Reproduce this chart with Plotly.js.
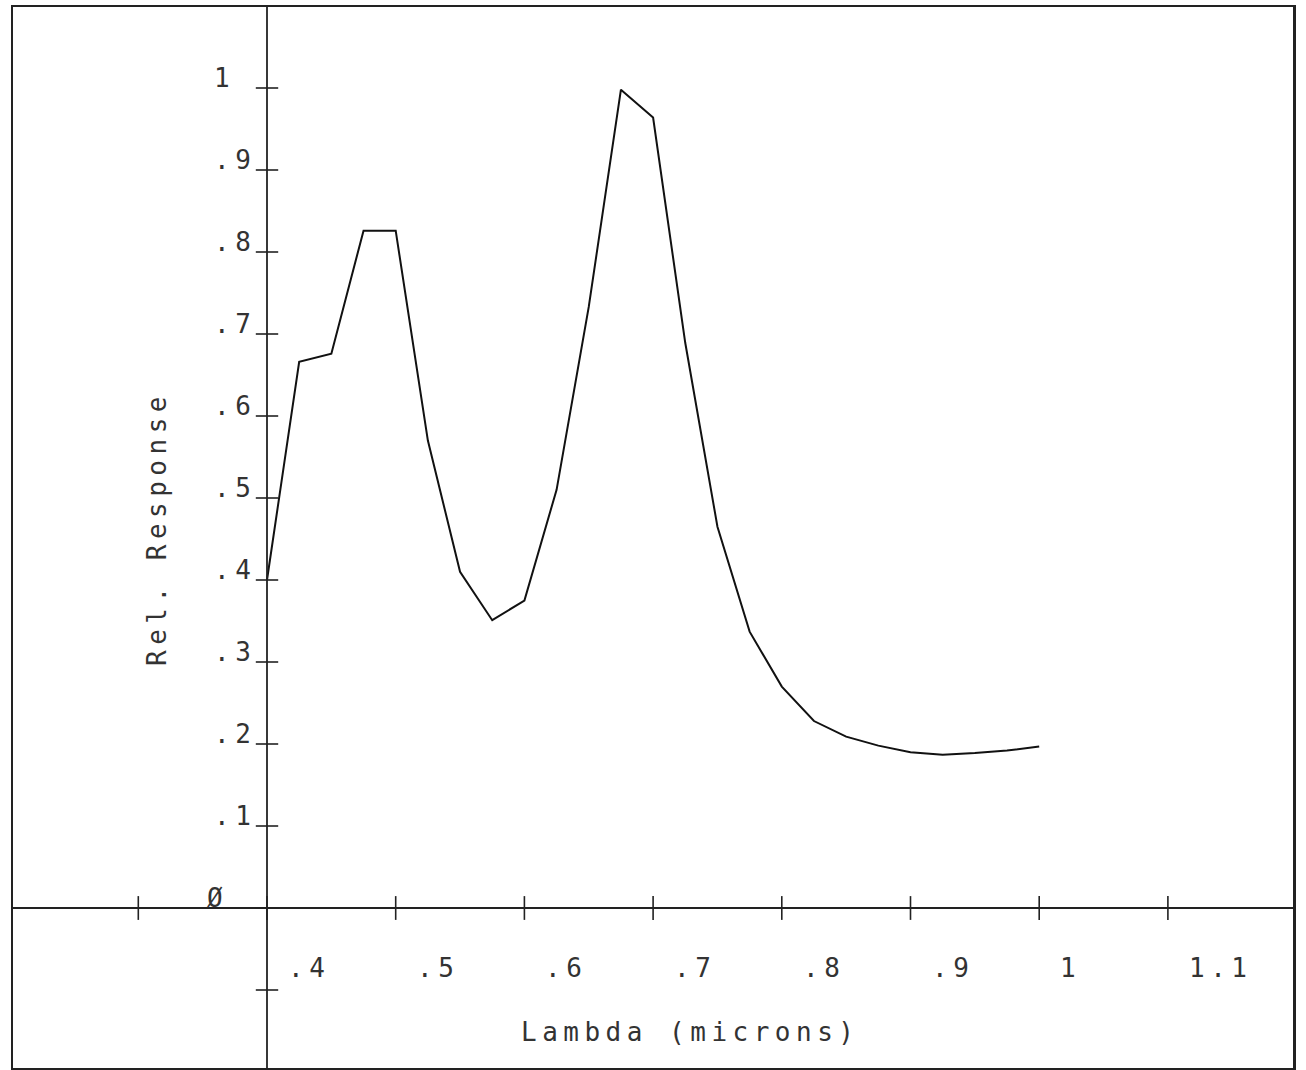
<!DOCTYPE html>
<html>
<head>
<meta charset="utf-8">
<script src="https://cdn.plot.ly/plotly-3.0.1.min.js"></script>
<style>
  html, body { margin: 0; padding: 0; background: #ffffff; }
  .annotation-text { letter-spacing: 5.5px; }
</style>
</head>
<body>
<div id="chart" style="width:1306px;height:1070px;"></div>
<script>
// ---- data ----
const lambda = [0.4, 0.425, 0.45, 0.475, 0.5, 0.525, 0.55, 0.575, 0.6, 0.625, 0.65, 0.675, 0.7,
                0.725, 0.75, 0.775, 0.8, 0.825, 0.85, 0.875, 0.9, 0.925, 0.95, 0.975, 1.0];
const response = [0.40, 0.666, 0.676, 0.826, 0.826, 0.57, 0.41, 0.351, 0.375, 0.51, 0.733, 0.998, 0.964,
                  0.689, 0.465, 0.337, 0.27, 0.228, 0.209, 0.198, 0.19, 0.187, 0.189, 0.192, 0.197];

const xTickVals = [0.3, 0.4, 0.5, 0.6, 0.7, 0.8, 0.9, 1.0, 1.1];
const xTickText = ['', '.4', '.5', '.6', '.7', '.8', '.9', '1', '1.1'];
const yTickVals = [-0.1, 0, 0.1, 0.2, 0.3, 0.4, 0.5, 0.6, 0.7, 0.8, 0.9, 1.0];
const yTickText = ['', 'Ø', '.1', '.2', '.3', '.4', '.5', '.6', '.7', '.8', '.9', '1'];

const xTitle = 'Lambda (microns)';
const yTitle = 'Rel. Response';
const yAxisAt = 0.4;   // the vertical axis crosses at lambda = 0.4
// ---------------------------------------------

const ink = '#222222';
const font = { family: 'DejaVu Sans Mono, monospace', size: 26, color: '#333333' };

const traces = [
  { // tick marks on the horizontal axis
    x: xTickVals, y: xTickVals.map(() => 0),
    type: 'scatter', mode: 'markers', hoverinfo: 'skip',
    marker: { symbol: 'line-ns', size: 17, color: ink, line: { color: ink, width: 1.6 } }
  },
  { // tick marks on the vertical axis
    x: yTickVals.map(() => yAxisAt), y: yTickVals,
    type: 'scatter', mode: 'markers', hoverinfo: 'skip',
    marker: { symbol: 'line-ew', size: 16, color: ink, line: { color: ink, width: 1.6 } }
  },
  { // response curve
    x: lambda, y: response,
    type: 'scatter', mode: 'lines',
    line: { color: '#111111', width: 2 }
  }
];

const annotations = [];
xTickVals.forEach((v, i) => {
  if (!xTickText[i]) return;
  annotations.push({
    x: v, y: 0, xref: 'x', yref: 'y', text: xTickText[i], showarrow: false,
    xanchor: 'left', yanchor: 'middle', xshift: 19, yshift: -60, font: font
  });
});
yTickVals.forEach((v, i) => {
  if (!yTickText[i]) return;
  const isZero = v === 0;
  annotations.push({
    x: yAxisAt, y: v, xref: 'x', yref: 'y', text: yTickText[i], showarrow: false,
    xanchor: 'left', yanchor: 'middle', xshift: isZero ? -62 : -55, yshift: 10, font: font
  });
});
annotations.push({
  x: 0.529, y: 0.034, xref: 'paper', yref: 'paper', text: xTitle, showarrow: false,
  xanchor: 'center', yanchor: 'middle', font: font
});
annotations.push({
  x: 0.1125, y: 0.508, xref: 'paper', yref: 'paper', text: yTitle, showarrow: false,
  textangle: -90, xanchor: 'center', yanchor: 'middle', font: font
});

const layout = {
  width: 1306, height: 1070,
  margin: { l: 13, r: 13, t: 7, b: 2, pad: 0 },
  paper_bgcolor: '#ffffff', plot_bgcolor: '#ffffff',
  showlegend: false,
  xaxis: {
    range: [0.20264, 1.19720], showgrid: false, zeroline: false,
    showticklabels: false, ticks: '', showline: true, mirror: true,
    linecolor: ink, linewidth: 2.5, fixedrange: true
  },
  yaxis: {
    range: [-0.19512, 1.09878], showgrid: false, zeroline: true,
    zerolinecolor: ink, zerolinewidth: 1.8,
    showticklabels: false, ticks: '', showline: true, mirror: true,
    linecolor: ink, linewidth: 2.5, fixedrange: true
  },
  shapes: [{
    type: 'line', xref: 'x', yref: 'paper', x0: yAxisAt, x1: yAxisAt, y0: 0, y1: 1,
    line: { color: ink, width: 1.8 }, layer: 'above'
  }],
  annotations: annotations
};

Plotly.newPlot('chart', traces, layout, { displayModeBar: false, staticPlot: true });
</script>
</body>
</html>
